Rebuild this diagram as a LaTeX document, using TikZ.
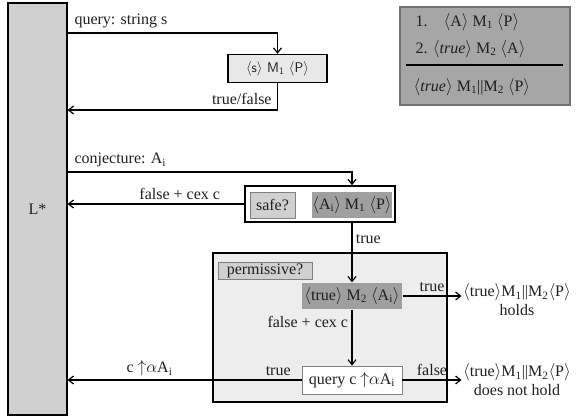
\documentclass[tikz,border=0pt]{standalone}
\usepackage{fontspec}
\setmainfont{Liberation Serif}
\usepackage{tikz}
\usetikzlibrary{arrows.meta}

\newcommand{\lan}{$\langle$}
\newcommand{\ran}{$\rangle$}

\begin{document}
\begin{tikzpicture}[x=1pt, y=-1pt, >={Straight Barb[length=5pt,width=8pt]},
    line width=1.2pt, font=\fontsize{16}{18}\selectfont, text=black!88]

\tikzstyle{learner} = [rectangle, draw, fill=gray!37, minimum width=59pt,
                       minimum height=412pt, inner sep=0pt]
\tikzstyle{check}   = [rectangle, draw, fill=gray!18, line width=1.4pt,
                       inner sep=0pt]
\tikzstyle{tag}     = [rectangle, draw=gray, line width=0.8pt, fill=gray!37,
                       inner sep=0pt]
\tikzstyle{triple}  = [rectangle, fill=gray!75, minimum height=26pt,
                       inner sep=0pt]
\tikzstyle{verdict} = [align=center, inner sep=1pt, font=\fontsize{16}{19}\selectfont]

\useasboundingbox (0,0) rectangle (578,418);

% ── Learner ──────────────────────────────────────────
\node[learner] (lstar) at (37.5,209) {L*};

% ── Membership query ─────────────────────────────────
\node[check, minimum width=99pt, minimum height=28pt, font=\fontsize{14}{16}\sffamily]
     (memq) at (277.5,68.5) {\lan s\ran{} M\textsubscript{1} \lan P\ran};

% ── Assume-guarantee rule ────────────────────────────
\node[rectangle, draw=gray!90!black, fill=gray!70, minimum width=170pt,
      minimum height=98pt] (rulebox) at (485,56) {};
\node[anchor=west, inner sep=0pt] (prem1) at (415,22)
     {1.\hspace{16pt}\lan A\ran{} M\textsubscript{1} \lan P\ran};
\node[anchor=west, inner sep=0pt] (prem2) at (415,49)
     {2. \lan\textit{true}\ran{} M\textsubscript{2} \lan A\ran};
\node[anchor=west, inner sep=0pt] (concl) at (413,87)
     {\lan\textit{true}\ran{} M\textsubscript{1}||M\textsubscript{2} \lan P\ran};
\coordinate (rl) at (406,65);
\coordinate (rr) at (563,65);
\draw[line width=1.3pt, black] (rl) -- (rr);

% ── Safety check ─────────────────────────────────────
\node[check, fill=white, line width=1.6pt, minimum width=150pt,
      minimum height=36pt] (safe) at (320,204) {};
\node[tag, minimum width=45pt, minimum height=26pt] (safeq) at (272.5,205) {safe?};
\node[triple, minimum width=80pt] (ami) at (352,205)
     {\lan A\textsubscript{i}\ran{} M\textsubscript{1} \lan P\ran};

% ── Permissiveness check ─────────────────────────────
\node[rectangle, draw, fill=gray!14, minimum width=234pt,
      minimum height=149pt] (perm) at (330,327.5) {};
\node[tag, minimum width=94pt, minimum height=17pt] (permq) at (265,270.5) {permissive?};
\node[triple, minimum width=100pt] (m2) at (352,296)
     {\lan true\ran{} M\textsubscript{2} \lan A\textsubscript{i}\ran};
\node[rectangle, draw=gray, line width=0.8pt, fill=white, minimum width=100pt,
      minimum height=28pt, inner sep=0pt] (query) at (352,380)
     {query c $\mathord{\uparrow}\alpha$A\textsubscript{i}};

% ── Outcomes ─────────────────────────────────────────
\node[verdict] (holds) at (517,300)
     {\lan true\ran M\textsubscript{1}||M\textsubscript{2}\lan P\ran\\holds};
\node[verdict] (nothold) at (517,380)
     {\lan true\ran M\textsubscript{1}||M\textsubscript{2}\lan P\ran\\does not hold};

% ── Arrows: learner <-> teacher ──────────────────────
\coordinate (yq) at (0,33);
\coordinate (ya) at (0,110);
\coordinate (yc) at (0,172);

\draw[->] (lstar.east |- yq) -| node[at start, anchor=south west, xshift=3pt, yshift=1pt]
     (lquery) {query: string s} (memq.north);
\draw[->] (memq.south) |- node[pos=0.5, anchor=south east, xshift=-2pt, yshift=1pt]
     (lans) {true/false} (lstar.east |- ya);
\draw[->] (lstar.east |- yc) -| node[at start, anchor=south west, xshift=3pt, yshift=1pt]
     (lconj) {conjecture: A\textsubscript{i}} (ami |- safe.north);
\draw[->] (safe.west) -- node[pos=0.365, above] (lcex)
     {false + cex c} (lstar.east |- safe.west);

% ── Arrows: inside the checks ────────────────────────
\draw[->] (ami |- safe.south) -- node[pos=0.27, right] (ltrue) {true} (m2.north);
\draw[->] (m2.south) -- node[pos=0.22, left] (lcex2) {false + cex c} (query.north);
\draw[->] (m2.east) -- node[midway, above] (lhold) {true}
     (holds.west |- m2.east);
\draw[->] (query.east) -- node[midway, above] (lfalse) {false}
     (nothold.west |- query.east);
\draw[->] (query.west) -- node[pos=0.1, above] (lback) {true}
     node[pos=0.65, above] (lce) {c $\mathord{\uparrow}\alpha$A\textsubscript{i}}
     (lstar.east |- query.west);

\end{tikzpicture}
\end{document}
